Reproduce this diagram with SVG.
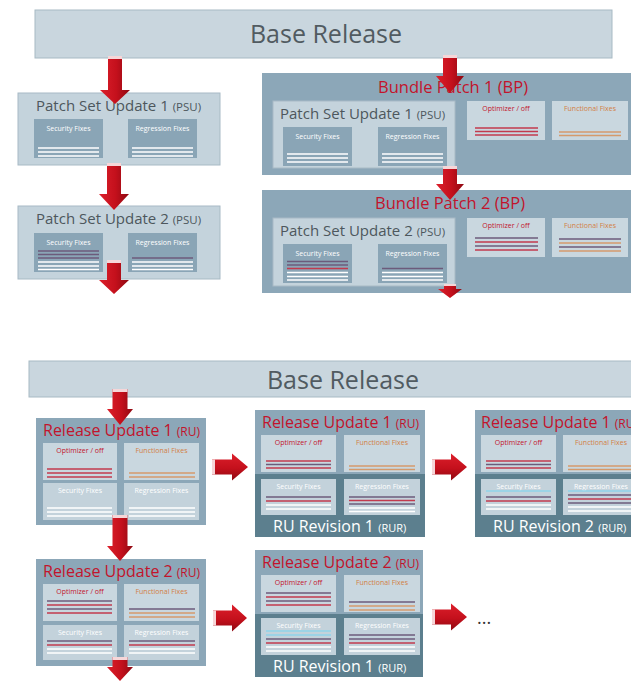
<svg xmlns="http://www.w3.org/2000/svg" width="631" height="681" viewBox="0 0 631 681">
<defs>
<linearGradient id="gd" x1="0" y1="0" x2="1" y2="0"><stop offset="0" stop-color="#dc1f2b"/><stop offset="0.55" stop-color="#c4101c"/><stop offset="1" stop-color="#8e0912"/></linearGradient>
<linearGradient id="gr" x1="0" y1="0" x2="0" y2="1"><stop offset="0" stop-color="#dc1f2b"/><stop offset="0.55" stop-color="#c4101c"/><stop offset="1" stop-color="#8e0912"/></linearGradient>
<style>
text{font-family:"Open Sans","Liberation Sans",sans-serif}
.base{fill:#c9d6de;stroke:#a7bac4;stroke-width:1}
.bt{font-size:25px;fill:#515b61;text-anchor:middle}
.psu{fill:#c4d3dc;stroke:#a8bac5;stroke-width:1}
.mid{fill:#8ca7b8}
.dark{fill:#5c7f8e}
.fix{fill:#8aa5b6}
.lt{fill:#c9d7df}
.lw{fill:#c3d2db}
.pt{font-size:15px;fill:#4d575d}
.ps{font-size:11.5px}
.bpt{font-size:16.5px;fill:#c2142c;text-anchor:middle}
.rt{font-size:16px;fill:#c2142c}
.wt{font-size:16px;fill:#ffffff}
.s12{font-size:12px}
.s11{font-size:11px}
.lb{font-size:7px;text-anchor:middle}
.w{fill:#ffffff}
.r{fill:#c2142c}
.o{fill:#d27f45}
.ln line{stroke-width:1.3}
.lW{stroke:#ffffff}
.lP{stroke:#6c5b7b}
.lR{stroke:#c23a4e}
.lO{stroke:#d49a6c}
.lC{stroke:#8fd3ea}
.ad{fill:url(#gd)}
.ar{fill:url(#gr)}
.cap{fill:#f6d6d8}
</style>
</defs>
<rect width="631" height="681" fill="#ffffff"/>

<g id="base1">
<rect class="base" x="35" y="10" width="577" height="48"/>
<text class="bt" x="326" y="43">Base Release</text>
</g>

<g id="psu1">
<rect class="psu" x="18" y="93" width="202" height="72"/>
<text class="pt" x="36" y="111">Patch Set Update 1 <tspan class="ps">(PSU)</tspan></text>
<rect class="fix" x="34" y="119" width="69" height="39"/>
<text class="lb w" x="68.5" y="131">Security Fixes</text>
<rect class="fix" x="128" y="119" width="69" height="39"/>
<text class="lb w" x="162.5" y="131">Regression Fixes</text>
<g class="ln">
<line class="lW" x1="38" y1="148" x2="99" y2="148"/><line class="lW" x1="38" y1="152" x2="99" y2="152"/><line class="lW" x1="38" y1="156" x2="99" y2="156"/>
<line class="lW" x1="132" y1="148" x2="193" y2="148"/><line class="lW" x1="132" y1="152" x2="193" y2="152"/><line class="lW" x1="132" y1="156" x2="193" y2="156"/>
</g>
</g>

<g id="psu2">
<rect class="psu" x="18" y="206" width="202" height="73"/>
<text class="pt" x="36" y="224">Patch Set Update 2 <tspan class="ps">(PSU)</tspan></text>
<rect class="fix" x="34" y="233" width="69" height="39"/>
<text class="lb w" x="68.5" y="245">Security Fixes</text>
<rect class="fix" x="128" y="233" width="69" height="39"/>
<text class="lb w" x="162.5" y="245">Regression Fixes</text>
<g class="ln">
<line class="lP" x1="38" y1="251" x2="99" y2="251"/><line class="lP" x1="38" y1="254.5" x2="99" y2="254.5"/><line class="lP" x1="38" y1="258" x2="99" y2="258"/>
<line class="lW" x1="38" y1="262" x2="99" y2="262"/><line class="lW" x1="38" y1="266" x2="99" y2="266"/><line class="lW" x1="38" y1="269.5" x2="99" y2="269.5"/>
<line class="lP" x1="132" y1="258" x2="193" y2="258"/>
<line class="lW" x1="132" y1="262" x2="193" y2="262"/><line class="lW" x1="132" y1="266" x2="193" y2="266"/><line class="lW" x1="132" y1="269.5" x2="193" y2="269.5"/>
</g>
</g>

<g id="bp1">
<rect class="mid" x="262" y="73" width="369" height="102"/>
<text class="bpt" x="453" y="93">Bundle Patch 1 (BP)</text>
<rect class="psu" x="273" y="101" width="182" height="67" stroke="none"/>
<text class="pt" x="280" y="119">Patch Set Update 1 <tspan class="ps">(PSU)</tspan></text>
<rect class="fix" x="283" y="127" width="69" height="39"/>
<text class="lb w" x="317.5" y="139">Security Fixes</text>
<rect class="fix" x="378" y="127" width="69" height="39"/>
<text class="lb w" x="412.5" y="139">Regression Fixes</text>
<rect class="lt" x="467" y="101" width="78" height="39"/>
<text class="lb r" x="506" y="111">Optimizer / off</text>
<rect class="lt" x="552" y="101" width="76" height="39"/>
<text class="lb o" x="590" y="111">Functional Fixes</text>
<g class="ln">
<line class="lW" x1="287" y1="154" x2="348" y2="154"/><line class="lW" x1="287" y1="158" x2="348" y2="158"/><line class="lW" x1="287" y1="162" x2="348" y2="162"/>
<line class="lW" x1="382" y1="154" x2="443" y2="154"/><line class="lW" x1="382" y1="158" x2="443" y2="158"/><line class="lW" x1="382" y1="162" x2="443" y2="162"/>
<line class="lR" x1="475" y1="128" x2="538" y2="128"/><line class="lR" x1="475" y1="131.5" x2="538" y2="131.5"/><line class="lR" x1="475" y1="135" x2="538" y2="135"/>
<line class="lO" x1="559" y1="132" x2="621" y2="132"/><line class="lO" x1="559" y1="135.5" x2="621" y2="135.5"/>
</g>
</g>

<g id="bp2">
<rect class="mid" x="262" y="190" width="369" height="103"/>
<text class="bpt" x="450" y="209">Bundle Patch 2 (BP)</text>
<rect class="psu" x="273" y="218" width="182" height="68" stroke="none"/>
<text class="pt" x="280" y="236">Patch Set Update 2 <tspan class="ps">(PSU)</tspan></text>
<rect class="fix" x="283" y="244" width="69" height="39"/>
<text class="lb w" x="317.5" y="256">Security Fixes</text>
<rect class="fix" x="378" y="244" width="69" height="39"/>
<text class="lb w" x="412.5" y="256">Regression Fixes</text>
<rect class="lt" x="467" y="218" width="78" height="39"/>
<text class="lb r" x="506" y="228">Optimizer / off</text>
<rect class="lt" x="552" y="218" width="76" height="39"/>
<text class="lb o" x="590" y="228">Functional Fixes</text>
<g class="ln">
<line class="lP" x1="287" y1="261.5" x2="348" y2="261.5"/><line class="lP" x1="287" y1="265" x2="348" y2="265"/><line class="lR" x1="287" y1="268.5" x2="348" y2="268.5"/>
<line class="lW" x1="287" y1="272.5" x2="348" y2="272.5"/><line class="lW" x1="287" y1="276.5" x2="348" y2="276.5"/><line class="lW" x1="287" y1="280" x2="348" y2="280"/>
<line class="lP" x1="382" y1="268.5" x2="443" y2="268.5"/>
<line class="lW" x1="382" y1="272.5" x2="443" y2="272.5"/><line class="lW" x1="382" y1="276.5" x2="443" y2="276.5"/><line class="lW" x1="382" y1="280" x2="443" y2="280"/>
<line class="lP" x1="475" y1="238" x2="538" y2="238"/><line class="lR" x1="475" y1="242" x2="538" y2="242"/><line class="lP" x1="475" y1="246" x2="538" y2="246"/><line class="lR" x1="475" y1="250" x2="538" y2="250"/>
<line class="lP" x1="559" y1="239" x2="621" y2="239"/><line class="lO" x1="559" y1="243" x2="621" y2="243"/><line class="lP" x1="559" y1="247" x2="621" y2="247"/><line class="lO" x1="559" y1="251" x2="621" y2="251"/>
</g>
</g>

<g id="base2">
<rect class="base" x="29" y="361" width="610" height="36"/>
<text class="bt" x="343" y="389" font-size="26">Base Release</text>
</g>

<g id="ru1">
<rect class="mid" x="36" y="418" width="170" height="107"/>
<text class="rt" x="43" y="436">Release Update 1 <tspan class="s12">(RU)</tspan></text>
<rect class="lt" x="43" y="443" width="74" height="37"/>
<text class="lb r" x="80" y="453">Optimizer / off</text>
<rect class="lt" x="124" y="443" width="75" height="37"/>
<text class="lb o" x="161.5" y="453">Functional Fixes</text>
<rect class="lw" x="43" y="483" width="74" height="37"/>
<text class="lb w" x="80" y="493">Security Fixes</text>
<rect class="lw" x="124" y="483" width="75" height="37"/>
<text class="lb w" x="161.5" y="493">Regression Fixes</text>
<g class="ln">
<line class="lR" x1="47" y1="469" x2="112" y2="469"/><line class="lR" x1="47" y1="473" x2="112" y2="473"/><line class="lR" x1="47" y1="477" x2="112" y2="477"/>
<line class="lO" x1="129" y1="473" x2="195" y2="473"/><line class="lO" x1="129" y1="477" x2="195" y2="477"/>
<line class="lW" x1="47" y1="508" x2="112" y2="508"/><line class="lW" x1="47" y1="512" x2="112" y2="512"/><line class="lW" x1="47" y1="516" x2="112" y2="516"/>
<line class="lW" x1="129" y1="508" x2="195" y2="508"/><line class="lW" x1="129" y1="512" x2="195" y2="512"/><line class="lW" x1="129" y1="516" x2="195" y2="516"/>
</g>
</g>

<g id="ru2">
<rect class="mid" x="36" y="559" width="170" height="107"/>
<text class="rt" x="43" y="577">Release Update 2 <tspan class="s12">(RU)</tspan></text>
<rect class="lt" x="43" y="584" width="74" height="37"/>
<text class="lb r" x="80" y="594">Optimizer / off</text>
<rect class="lt" x="124" y="584" width="75" height="37"/>
<text class="lb o" x="161.5" y="594">Functional Fixes</text>
<rect class="lw" x="43" y="625" width="74" height="35"/>
<text class="lb w" x="80" y="635">Security Fixes</text>
<rect class="lw" x="124" y="625" width="75" height="35"/>
<text class="lb w" x="161.5" y="635">Regression Fixes</text>
<g class="ln">
<line class="lP" x1="47" y1="601" x2="112" y2="601"/><line class="lR" x1="47" y1="605" x2="112" y2="605"/><line class="lP" x1="47" y1="609" x2="112" y2="609"/><line class="lR" x1="47" y1="613" x2="112" y2="613"/>
<line class="lP" x1="129" y1="609" x2="195" y2="609"/><line class="lO" x1="129" y1="613" x2="195" y2="613"/><line class="lO" x1="129" y1="617" x2="195" y2="617"/>
<line class="lP" x1="47" y1="641" x2="112" y2="641"/><line class="lR" x1="47" y1="645" x2="112" y2="645"/><line class="lW" x1="47" y1="649" x2="112" y2="649"/><line class="lW" x1="47" y1="653" x2="112" y2="653"/>
<line class="lP" x1="129" y1="641" x2="195" y2="641"/><line class="lR" x1="129" y1="645" x2="195" y2="645"/><line class="lW" x1="129" y1="649" x2="195" y2="649"/><line class="lW" x1="129" y1="653" x2="195" y2="653"/>
</g>
</g>

<g id="rur1a">
<rect class="mid" x="255" y="410" width="170" height="127"/>
<rect class="dark" x="255" y="474" width="170" height="63"/>
<text class="rt" x="262" y="428">Release Update 1 <tspan class="s12">(RU)</tspan></text>
<rect class="lt" x="261" y="435" width="75" height="37"/>
<text class="lb r" x="298.5" y="445">Optimizer / off</text>
<rect class="lt" x="344" y="435" width="76" height="37"/>
<text class="lb o" x="382" y="445">Functional Fixes</text>
<rect class="lw" x="261" y="479" width="75" height="36"/>
<text class="lb w" x="298.5" y="489">Security Fixes</text>
<rect class="lw" x="344" y="479" width="76" height="36"/>
<text class="lb w" x="382" y="489">Regression Fixes</text>
<text class="wt" x="273" y="532">RU Revision 1 <tspan class="s11">(RUR)</tspan></text>
<g class="ln">
<line class="lR" x1="266" y1="461" x2="331" y2="461"/><line class="lP" x1="266" y1="464.5" x2="331" y2="464.5"/><line class="lR" x1="266" y1="468" x2="331" y2="468"/>
<line class="lO" x1="349" y1="466" x2="415" y2="466"/><line class="lO" x1="349" y1="469.5" x2="415" y2="469.5"/>
<line class="lP" x1="266" y1="497" x2="331" y2="497"/><line class="lR" x1="266" y1="501" x2="331" y2="501"/><line class="lW" x1="266" y1="505" x2="331" y2="505"/><line class="lW" x1="266" y1="509" x2="331" y2="509"/>
<line class="lP" x1="349" y1="497" x2="415" y2="497"/><line class="lR" x1="349" y1="500.5" x2="415" y2="500.5"/><line class="lP" x1="349" y1="504" x2="415" y2="504"/><line class="lW" x1="349" y1="508" x2="415" y2="508"/><line class="lW" x1="349" y1="511.5" x2="415" y2="511.5"/>
</g>
</g>

<g id="rur2a">
<rect class="mid" x="475" y="410" width="170" height="127"/>
<rect class="dark" x="475" y="474" width="170" height="63"/>
<text class="rt" x="481" y="428">Release Update 1 <tspan class="s12">(RU)</tspan></text>
<rect class="lt" x="481" y="435" width="75" height="37"/>
<text class="lb r" x="518.5" y="445">Optimizer / off</text>
<rect class="lt" x="563" y="435" width="76" height="37"/>
<text class="lb o" x="601" y="445">Functional Fixes</text>
<rect class="lw" x="481" y="479" width="75" height="36"/>
<text class="lb w" x="518.5" y="489">Security Fixes</text>
<rect class="lw" x="563" y="479" width="76" height="36"/>
<text class="lb w" x="601" y="489">Regression Fixes</text>
<text class="wt" x="493" y="532">RU Revision 2 <tspan class="s11">(RUR)</tspan></text>
<g class="ln">
<line class="lR" x1="486" y1="461" x2="551" y2="461"/><line class="lP" x1="486" y1="464.5" x2="551" y2="464.5"/><line class="lR" x1="486" y1="468" x2="551" y2="468"/>
<line class="lO" x1="568" y1="466" x2="634" y2="466"/><line class="lO" x1="568" y1="469.5" x2="634" y2="469.5"/>
<line class="lC" x1="486" y1="491" x2="551" y2="491"/><line class="lP" x1="486" y1="497" x2="551" y2="497"/><line class="lR" x1="486" y1="501" x2="551" y2="501"/><line class="lW" x1="486" y1="505" x2="551" y2="505"/><line class="lW" x1="486" y1="509" x2="551" y2="509"/>
<line class="lC" x1="568" y1="491" x2="634" y2="491"/><line class="lP" x1="568" y1="495" x2="634" y2="495"/><line class="lR" x1="568" y1="499" x2="634" y2="499"/><line class="lP" x1="568" y1="503" x2="634" y2="503"/><line class="lW" x1="568" y1="507" x2="634" y2="507"/><line class="lW" x1="568" y1="511" x2="634" y2="511"/>
</g>
</g>

<g id="rur1b">
<rect class="mid" x="255" y="550" width="168" height="127"/>
<rect class="dark" x="255" y="614" width="168" height="63"/>
<text class="rt" x="262" y="568">Release Update 2 <tspan class="s12">(RU)</tspan></text>
<rect class="lt" x="261" y="575" width="75" height="37"/>
<text class="lb r" x="298.5" y="585">Optimizer / off</text>
<rect class="lt" x="344" y="575" width="76" height="37"/>
<text class="lb o" x="382" y="585">Functional Fixes</text>
<rect class="lw" x="261" y="618" width="75" height="37"/>
<text class="lb w" x="298.5" y="628">Security Fixes</text>
<rect class="lw" x="344" y="618" width="76" height="37"/>
<text class="lb w" x="382" y="628">Regression Fixes</text>
<text class="wt" x="273" y="672">RU Revision 1 <tspan class="s11">(RUR)</tspan></text>
<g class="ln">
<line class="lP" x1="266" y1="593" x2="331" y2="593"/><line class="lR" x1="266" y1="597" x2="331" y2="597"/><line class="lP" x1="266" y1="601" x2="331" y2="601"/><line class="lR" x1="266" y1="605" x2="331" y2="605"/>
<line class="lP" x1="349" y1="602" x2="415" y2="602"/><line class="lO" x1="349" y1="606" x2="415" y2="606"/><line class="lO" x1="349" y1="610" x2="415" y2="610"/>
<line class="lC" x1="266" y1="631" x2="331" y2="631"/><line class="lC" x1="266" y1="635" x2="331" y2="635"/><line class="lP" x1="266" y1="639" x2="331" y2="639"/><line class="lR" x1="266" y1="643" x2="331" y2="643"/><line class="lW" x1="266" y1="647" x2="331" y2="647"/><line class="lW" x1="266" y1="651" x2="331" y2="651"/>
<line class="lP" x1="349" y1="635" x2="415" y2="635"/><line class="lP" x1="349" y1="639" x2="415" y2="639"/><line class="lR" x1="349" y1="643" x2="415" y2="643"/><line class="lW" x1="349" y1="647" x2="415" y2="647"/><line class="lW" x1="349" y1="651" x2="415" y2="651"/>
</g>
</g>

<g id="more">
<text x="477" y="624" font-size="18" fill="#333333">...</text>
</g>

<g id="connectors">
<path class="ad" d="M108,56 H122 V90 H130 L115,104 L100,90 H108 Z"/><rect class="cap" x="108" y="56" width="14" height="3"/>
<path class="ad" d="M107,163 H121 V194 H129 L114,210 L99,194 H107 Z"/><rect class="cap" x="107" y="163" width="14" height="3"/>
<path class="ad" d="M107,260 H121 V280 H129 L114,294 L99,280 H107 Z"/><rect class="cap" x="107" y="260" width="14" height="3"/>
<path class="ad" d="M443,55 H457 V76 H464 L450,93 L436,76 H443 Z"/><rect class="cap" x="443" y="55" width="14" height="3"/>
<path class="ad" d="M443,166 H457 V184 H464 L450,200 L436,184 H443 Z"/><rect class="cap" x="443" y="166" width="14" height="3"/>
<path class="ad" d="M444,284 H456 V289 H462 L450,298 L438,289 H444 Z"/><rect class="cap" x="444" y="284" width="12" height="2"/>
<path class="ad" d="M112.5,389 H127.5 V409 H133 L120,425 L107,409 H112.5 Z"/><rect class="cap" x="112.5" y="389" width="15" height="3"/>
<path class="ad" d="M112.5,515 H127.5 V546 H133 L120,561 L107,546 H112.5 Z"/><rect class="cap" x="112.5" y="515" width="15" height="3"/>
<path class="ad" d="M112.5,657 H127.5 V667 H133 L120,681 L107,667 H112.5 Z"/><rect class="cap" x="112.5" y="657" width="15" height="3"/>
<path class="ar" d="M212,459.5 V474.5 H232 V480.5 L248,467 L232,453.5 V459.5 Z"/><rect class="cap" x="212" y="459.5" width="3" height="15"/>
<path class="ar" d="M213,610.5 V625.5 H232 V631.5 L247,618 L232,604.5 V610.5 Z"/><rect class="cap" x="213" y="610.5" width="3" height="15"/>
<path class="ar" d="M432,459.5 V474.5 H451 V480.5 L467,467 L451,453.5 V459.5 Z"/><rect class="cap" x="432" y="459.5" width="3" height="15"/>
<path class="ar" d="M432,609.5 V624.5 H451 V630.5 L467,617 L451,603.5 V609.5 Z"/><rect class="cap" x="432" y="609.5" width="3" height="15"/>
</g>
</svg>
